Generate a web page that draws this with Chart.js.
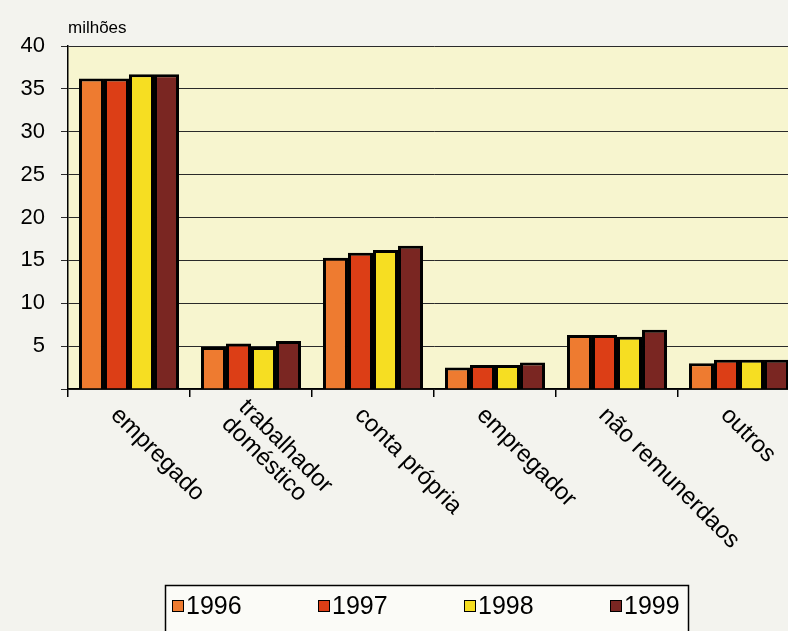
<!DOCTYPE html>
<html>
<head>
<meta charset="utf-8">
<script src="https://cdn.jsdelivr.net/npm/chart.js@4"></script>
<style>
  html, body { margin: 0; padding: 0; background: #f3f3ee; overflow: hidden; }
  #wrap { position: relative; width: 812px; height: 631px; }
</style>
</head>
<body>
<div id="wrap"><canvas id="myChart"></canvas></div>
<script>
const categories = [['empregado'], ['trabalhador', 'doméstico'], ['conta própria'], ['empregador'], ['não remunerdaos'], ['outros']];
const years = ['1996', '1997', '1998', '1999'];
const values1996 = [36.2, 4.9, 15.3, 2.5, 6.3, 3.0];
const values1997 = [36.2, 5.3, 15.9, 2.8, 6.3, 3.4];
const values1998 = [36.7, 4.9, 16.2, 2.8, 6.1, 3.4];
const values1999 = [36.7, 5.6, 16.7, 3.1, 6.9, 3.4];
const yTicks = [5, 10, 15, 20, 25, 30, 35, 40];
const unitLabel = 'milhões';

const colors = ['#ee7b30', '#dc3e16', '#f6de22', '#7a2622'];
const FONT = '"Liberation Sans", Arial, sans-serif';

const series = [values1996, values1997, values1998, values1999];

// pale yellow plot area
const plotBg = {
    id: 'plotBg',
    beforeDraw(chart) {
        const { ctx, chartArea: a } = chart;
        ctx.save();
        ctx.fillStyle = '#f7f5cf';
        ctx.fillRect(a.left, a.top, a.right - a.left, a.bottom - a.top);
        ctx.restore();
    }
};

// rotated category labels, unit label and the boxed legend
const extras = {
    id: 'extras',
    afterDraw(chart) {
        const { ctx, chartArea: a } = chart;
        const xs = chart.scales.x;
        ctx.save();
        ctx.fillStyle = '#000';

        ctx.font = '17px ' + FONT;
        ctx.textAlign = 'left';
        ctx.textBaseline = 'middle';
        ctx.fillText(unitLabel, a.left, 28);

        ctx.font = '24px ' + FONT;
        ctx.textBaseline = 'top';
        categories.forEach((lines, i) => {
            const cx = xs.getPixelForValue(i);
            const n = lines.length;
            const ox = cx - 6 + (n - 1) * 6;
            const oy = 403 - (n - 1) * 8;
            lines.forEach((txt, j) => {
                ctx.save();
                ctx.translate(ox - j * 17, oy + j * 17);
                ctx.rotate(Math.PI / 4);
                ctx.fillText(txt, 0, 0);
                ctx.restore();
            });
        });

        // legend
        ctx.fillStyle = '#fbfbf7';
        ctx.fillRect(165, 585, 523, 60);
        ctx.strokeStyle = '#000';
        ctx.lineWidth = 1.5;
        ctx.strokeRect(165.5, 585.5, 523, 60);
        ctx.font = '25px ' + FONT;
        ctx.textBaseline = 'middle';
        years.forEach((y, i) => {
            const x0 = 172 + i * 146;
            ctx.fillStyle = colors[i];
            ctx.fillRect(x0, 600, 12, 12);
            ctx.lineWidth = 1;
            ctx.strokeRect(x0 + 0.5, 600.5, 11, 11);
            ctx.fillStyle = '#000';
            ctx.fillText(y, x0 + 14, 607);
        });
        ctx.restore();
    }
};

const ctx = document.getElementById('myChart').getContext('2d');
new Chart(ctx, {
    type: 'bar',
    data: {
        labels: categories.map(c => c.join(' ')),
        datasets: years.map((y, i) => ({
            label: y,
            data: series[i],
            backgroundColor: colors[i],
            borderColor: '#000',
            borderWidth: 3,
            barPercentage: 1,
            categoryPercentage: 0.82
        }))
    },
    options: {
        responsive: true,
        maintainAspectRatio: false,
        animation: false,
        devicePixelRatio: 1,
        layout: { padding: { top: 46, right: 12, left: 0, bottom: 0 } },
        plugins: {
            legend: { display: false },
            tooltip: { enabled: false }
        },
        scales: {
            x: {
                ticks: { display: false },
                grid: { offset: true, drawOnChartArea: false, color: '#000', lineWidth: 1.5, tickLength: 8 },
                border: { color: '#000', width: 1.5 },
                afterFit(scale) { scale.height = 242; }
            },
            y: {
                min: 0,
                max: 40,
                ticks: {
                    stepSize: 5,
                    color: '#000',
                    padding: 16,
                    font: { size: 22, family: FONT },
                    callback: v => yTicks.includes(v) ? v : ''
                },
                grid: { color: '#2a2a2a', lineWidth: 1, tickLength: 7 },
                border: { color: '#000', width: 1.5 },
                afterFit(scale) { scale.width = 68; }
            }
        }
    },
    plugins: [plotBg, extras]
});
</script>
</body>
</html>
